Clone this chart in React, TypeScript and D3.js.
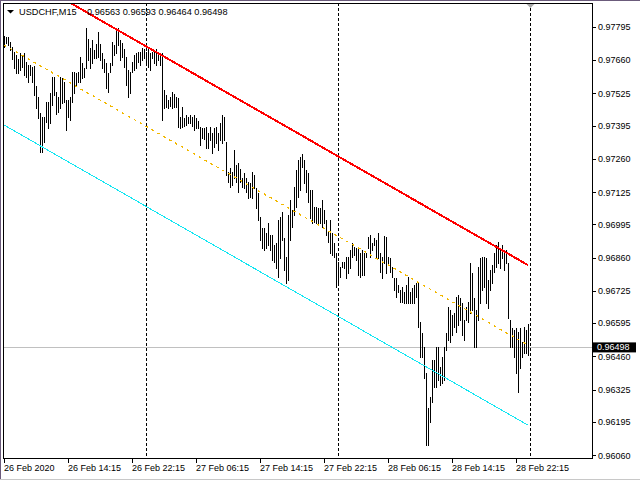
import React from 'react';
import * as d3 from 'd3';

const SYMBOL = 'USDCHF,M15';
const LAST_OHLC = ['0.96563', '0.96593', '0.96464', '0.96498'];
const BID = 0.96498;
const START_TIME = new Date(2020, 1, 26, 6, 15);
const BAR_MINUTES = 15;

// bar highs / lows in points (1 point = 0.00001)
const HIGH_POINTS = [
  97757, 97753, 97753, 97733, 97713, 97692, 97680, 97664, 97688, 97676,
  97688, 97652, 97640, 97640, 97632, 97636, 97555, 97510, 97446, 97429,
  97429, 97490, 97490, 97527, 97591, 97591, 97531, 97510, 97591, 97587,
  97571, 97498, 97498, 97510, 97612, 97612, 97607, 97612, 97672, 97648,
  97628, 97790, 97745, 97709, 97741, 97701, 97725, 97774, 97725, 97688,
  97664, 97648, 97607, 97648, 97733, 97721, 97778, 97790, 97741, 97729,
  97705, 97672, 97620, 97612, 97652, 97680, 97688, 97692, 97692, 97709,
  97705, 97692, 97709, 97688, 97692, 97692, 97705, 97688, 97688, 97688,
  97539, 97518, 97498, 97510, 97531, 97522, 97510, 97506, 97429, 97470,
  97425, 97437, 97429, 97437, 97429, 97437, 97425, 97413, 97389, 97385,
  97385, 97389, 97365, 97389, 97365, 97385, 97389, 97365, 97405, 97437,
  97429, 97328, 97207, 97223, 97207, 97296, 97235, 97243, 97219, 97182,
  97203, 97182, 97166, 97162, 97207, 97195, 97142, 97122, 97025, 96980,
  96980, 96960, 97000, 96952, 96952, 96911, 96919, 97012, 97025, 97045,
  96940, 96863, 97033, 97093, 97053, 97146, 97215, 97255, 97267, 97280,
  97255, 97215, 97203, 97134, 97134, 97065, 97065, 97061, 97061, 97093,
  97053, 97012, 96964, 97012, 96960, 96919, 96879, 96842, 96822, 96842,
  96842, 96863, 96863, 96891, 96919, 96903, 96899, 96899, 96879, 96891,
  96879, 96879, 96944, 96952, 96919, 96940, 96931, 96960, 96879, 96863,
  96948, 96944, 96863, 96859, 96822, 96778, 96778, 96749, 96729, 96741,
  96721, 96749, 96782, 96721, 96737, 96749, 96757, 96761, 96599, 96555,
  96498, 96393, 96251, 96296, 96446, 96446, 96498, 96498, 96417, 96458,
  96498, 96555, 96660, 96648, 96628, 96636, 96701, 96709, 96697, 96676,
  96608, 96660, 96680, 96838, 96798, 96697, 96648, 96822, 96859, 96863,
  96863, 96859, 96770, 96810, 96830, 96879, 96911, 96923, 96899, 96911,
  96891, 96891, 96838, 96608, 96575, 96567, 96575, 96559, 96575, 96519,
  96579, 96567, 96593,
];
const LOW_POINTS = [
  97713, 97729, 97721, 97701, 97664, 97628, 97607, 97607, 97620, 97632,
  97599, 97591, 97571, 97599, 97571, 97518, 97466, 97425, 97288, 97288,
  97328, 97409, 97385, 97405, 97478, 97518, 97442, 97450, 97466, 97486,
  97490, 97377, 97429, 97417, 97490, 97527, 97559, 97571, 97571, 97587,
  97591, 97628, 97660, 97628, 97648, 97668, 97668, 97672, 97660, 97628,
  97612, 97547, 97531, 97612, 97640, 97680, 97688, 97721, 97660, 97672,
  97632, 97559, 97510, 97527, 97612, 97620, 97628, 97652, 97640, 97660,
  97668, 97640, 97632, 97620, 97668, 97648, 97640, 97660, 97640, 97417,
  97466, 97470, 97466, 97474, 97466, 97470, 97470, 97389, 97385, 97389,
  97393, 97397, 97405, 97405, 97393, 97377, 97385, 97385, 97316, 97344,
  97340, 97304, 97304, 97336, 97284, 97308, 97324, 97296, 97336, 97324,
  97336, 97195, 97166, 97146, 97154, 97182, 97166, 97126, 97166, 97146,
  97142, 97126, 97101, 97105, 97101, 97142, 97061, 97012, 96931, 96899,
  96891, 96899, 96911, 96891, 96850, 96842, 96818, 96782, 96859, 96931,
  96810, 96757, 96770, 96931, 96984, 97033, 97065, 97105, 97134, 97227,
  97162, 97126, 97085, 97020, 97000, 97004, 97000, 97000, 97000, 96984,
  97000, 96952, 96923, 96879, 96871, 96863, 96741, 96757, 96782, 96822,
  96818, 96778, 96798, 96818, 96863, 96871, 96850, 96790, 96782, 96790,
  96790, 96863, 96899, 96863, 96891, 96911, 96863, 96859, 96802, 96778,
  96838, 96798, 96838, 96802, 96782, 96729, 96701, 96721, 96680, 96680,
  96676, 96676, 96676, 96676, 96676, 96676, 96701, 96579, 96458, 96458,
  96373, 96102, 96102, 96195, 96276, 96336, 96336, 96365, 96344, 96353,
  96365, 96486, 96527, 96519, 96547, 96579, 96559, 96587, 96608, 96547,
  96527, 96608, 96599, 96636, 96648, 96498, 96498, 96608, 96676, 96729,
  96741, 96676, 96656, 96729, 96757, 96802, 96822, 96838, 96818, 96859,
  96810, 96838, 96616, 96498, 96498, 96458, 96393, 96316, 96413, 96458,
  96474, 96474, 96464,
];

const PRICE_TICKS = [
  '0.97795', '0.97660', '0.97525', '0.97395', '0.97260', '0.97125', '0.96995',
  '0.96860', '0.96725', '0.96595', '0.96460', '0.96325', '0.96195', '0.96060',
];
const TIME_TICK_LABELS = [
  '26 Feb 2020', '26 Feb 14:15', '26 Feb 22:15', '27 Feb 06:15', '27 Feb 14:15',
  '27 Feb 22:15', '28 Feb 06:15', '28 Feb 14:15', '28 Feb 22:15',
];
const TIME_TICK_BARS = [0, 32, 64, 96, 128, 160, 192, 224, 256];

// regression channel: mid-line at first and last bar, deviation
const CHANNEL_MID_START = 0.97721;
const CHANNEL_MID_END = 0.96506;
const CHANNEL_DEV = 0.00324;

const FONT = '"Liberation Sans", Arial, sans-serif';

export default function App() {
  const W = 640, H = 480;
  const L = 3, R = 592, T = 3, B = 458;
  const n = HIGH_POINTS.length;
  const highs = HIGH_POINTS.map((p) => p / 1e5);
  const lows = LOW_POINTS.map((p) => p / 1e5);

  const x = d3.scaleLinear().domain([0, n - 1]).range([4, 4 + 2 * (n - 1)]);
  const y = d3.scaleLinear().domain([0.9606, 0.97795]).range([455.3, 26.7]);
  const px = (i: number) => Math.round(x(i)) + 0.5;

  const times = d3.range(n + 1).map((i) => d3.timeMinute.offset(START_TIME, BAR_MINUTES * i));
  const separators = times
    .map((t, i) => (t.getHours() === 0 && t.getMinutes() === 0 ? i : -1))
    .filter((i) => i > 0);

  const line = d3.line<[number, number]>().x((d) => x(d[0])).y((d) => y(d[1]));
  const chan = (k: number) =>
    line([
      [0, CHANNEL_MID_START + k * CHANNEL_DEV],
      [n - 1, CHANNEL_MID_END + k * CHANNEL_DEV],
    ]) || '';

  const bidY = Math.floor(y(BID)) + 0.5;
  const shiftX = px(separators[separators.length - 1]);

  return (
    <svg
      width={W}
      height={H}
      style={{ position: 'absolute', left: 0, top: 0, display: 'block', background: '#fff' }}
      fontFamily={FONT}
    >
      <defs>
        <clipPath id="plot">
          <rect x={L + 1} y={T + 1} width={R - L - 1} height={B - T - 1} />
        </clipPath>
      </defs>
      <rect x={0} y={0} width={W} height={H} fill="#fff" />
      {/* window border */}
      <line x1={0} x2={W} y1={0.5} y2={0.5} stroke="#6b5b7b" />
      <line x1={0.5} x2={0.5} y1={0} y2={H} stroke="#6b5b7b" />
      <line x1={0} x2={W} y1={479.5} y2={479.5} stroke="#c8c8c8" />

      <g clipPath="url(#plot)" shapeRendering="crispEdges">
        {/* period separators */}
        {separators.map((i) => (
          <line key={'s' + i} x1={px(i)} x2={px(i)} y1={T} y2={B} stroke="#000" strokeDasharray="3,2" />
        ))}
        {/* bid line */}
        <line x1={L} x2={R} y1={bidY} y2={bidY} stroke="#c0c0c0" />
        {/* bars */}
        {highs.map((h, i) => (
          <line key={i} x1={px(i)} x2={px(i)} y1={y(h)} y2={y(lows[i]) + 1} stroke="#000" />
        ))}
        {/* channel */}
        <path d={chan(0)} fill="none" stroke="#f2b800" strokeWidth={1.3} strokeDasharray="2.6,4.2" />
        <path d={chan(-1)} fill="none" stroke="#12e6f2" strokeWidth={1} />
        <path d={chan(1)} fill="none" stroke="#ff0000" strokeWidth={2} />
      </g>

      {/* frame */}
      <rect x={L + 0.5} y={T + 0.5} width={R - L} height={B - T} fill="none" stroke="#000" shapeRendering="crispEdges" />

      {/* shift marker */}
      <polygon points={`${shiftX - 4},${T + 1} ${shiftX + 4},${T + 1} ${shiftX},${T + 5}`} fill="#a8a8a8" />

      {/* header */}
      <polygon points="7,10 14,10 10.5,13.5" fill="#000" />
      <text x={19} y={15} fontSize={9.2} fill="#000">{SYMBOL}</text>
      <text x={87} y={15} fontSize={9.2} fill="#000" style={{ whiteSpace: 'pre' }}>{LAST_OHLC.join(' ')}</text>

      {/* price axis */}
      {PRICE_TICKS.map((t) => {
        const yy = Math.round(y(+t)) + 0.5;
        return (
          <g key={t}>
            <line x1={R} x2={R + 4} y1={yy} y2={yy} stroke="#000" shapeRendering="crispEdges" />
            <text x={598} y={y(+t) + 3.3} fontSize={9} fill="#000">{t}</text>
          </g>
        );
      })}
      <rect x={593} y={y(BID) - 4.7} width={43} height={10} fill="#000" />
      <text x={597} y={y(BID) + 3.3} fontSize={9} fill="#fff">{BID.toFixed(5)}</text>

      {/* time axis */}
      {TIME_TICK_BARS.map((b, k) => (
        <g key={b}>
          <line x1={px(b)} x2={px(b)} y1={B} y2={B + 5} stroke="#000" shapeRendering="crispEdges" />
          <text x={px(b) - 0.5} y={471} fontSize={9} fill="#000">{TIME_TICK_LABELS[k]}</text>
        </g>
      ))}
    </svg>
  );
}
